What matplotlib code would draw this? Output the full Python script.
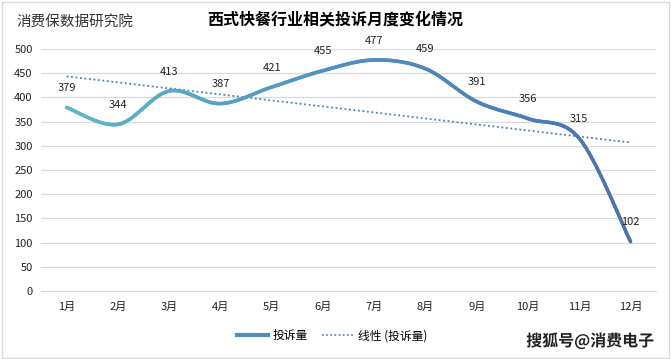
import matplotlib
matplotlib.use("Agg")
import matplotlib.pyplot as plt
import matplotlib.patheffects as pe
from matplotlib.collections import LineCollection
from matplotlib.colors import LinearSegmentedColormap
from matplotlib.lines import Line2D
import numpy as np

plt.rcParams["font.family"] = ["Noto Sans CJK SC", "DejaVu Sans"]

months = ["1月", "2月", "3月", "4月", "5月", "6月", "7月", "8月", "9月", "10月", "11月", "12月"]
complaints = [379, 344, 413, 387, 421, 455, 477, 459, 391, 356, 315, 102]
title = "西式快餐行业相关投诉月度变化情况"
source = "消费保数据研究院"
series_name = "投诉量"
trend_name = "线性 (投诉量)"
watermark = "搜狐号@消费电子"


def smooth(xs, ys, n=30):
    # Catmull-Rom style curve through the points, like Excel's smoothed line
    xs = np.asarray(xs, float)
    ys = np.asarray(ys, float)
    px = np.concatenate([[xs[0]], xs, [xs[-1]]])
    py = np.concatenate([[ys[0]], ys, [ys[-1]]])
    out_x, out_y = [], []
    t = np.linspace(0, 1, n)
    for i in range(1, len(px) - 2):
        p0, p1, p2, p3 = [np.array([px[j], py[j]]) for j in range(i - 1, i + 3)]
        c1 = p1 + (p2 - p0) / 6
        c2 = p2 - (p3 - p1) / 6
        b = ((1 - t) ** 3)[:, None] * p1 + (3 * (1 - t) ** 2 * t)[:, None] * c1 \
            + (3 * (1 - t) * t ** 2)[:, None] * c2 + (t ** 3)[:, None] * p2
        out_x.extend(b[:, 0])
        out_y.extend(b[:, 1])
    return np.array(out_x), np.array(out_y)


fig = plt.figure(figsize=(6.71, 3.59), dpi=100)
ax = fig.add_axes([0.061, 0.189, 0.917, 0.675])

x = np.arange(len(months))
sx, sy = smooth(x, complaints)
pts = np.column_stack([sx, sy]).reshape(-1, 1, 2)
segs = np.concatenate([pts[:-1], pts[1:]], axis=1)
cmap = LinearSegmentedColormap.from_list("g", ["#5fb8c8", "#4f8fc0", "#4a72b0"])
lc = LineCollection(segs, cmap=cmap, linewidth=2.6, capstyle="round", zorder=3)
lc.set_array(np.linspace(0, 1, len(segs)))
ax.add_collection(lc)

# linear trend line
k, b0 = np.polyfit(x, complaints, 1)
ax.plot(x, k * x + b0, linestyle=(0, (1, 1.5)), color="#4f7fc0", linewidth=1.3, zorder=2)

for xi, v in zip(x, complaints):
    ax.annotate(str(v), (xi, v), xytext=(0, 14), textcoords="offset points",
                ha="center", va="center", fontsize=8, color="#222222")

ax.set_xlim(-0.5, len(months) - 0.5)
ax.set_ylim(0, 500)
ax.set_yticks(range(0, 501, 50))
ax.set_xticks(x)
ax.set_xticklabels(months)
ax.tick_params(length=0, labelsize=8, colors="#222222")
ax.tick_params(axis="x", pad=8)
ax.tick_params(axis="y", pad=6)
ax.grid(axis="y", color="#d9d9d9", linewidth=0.9)
ax.set_axisbelow(True)
for s in ["top", "right", "left"]:
    ax.spines[s].set_visible(False)
ax.spines["bottom"].set_color("#d9d9d9")

fig.text(0.5, 0.945, title, ha="center", va="center", fontsize=11.5, fontweight="bold")
fig.text(0.025, 0.94, source, ha="left", va="center", fontsize=10.5, color="#333333")

handles = [Line2D([], [], color="#4f8fc0", linewidth=3),
           Line2D([], [], color="#4f7fc0", linestyle=(0, (1, 1.5)), linewidth=1.2)]
fig.legend(handles, [series_name, trend_name], loc="center", bbox_to_anchor=(0.495, 0.065),
           ncol=2, frameon=False, fontsize=8.5, handlelength=2.6, columnspacing=1.2,
           handletextpad=0.4)

fig.text(0.975, 0.05, watermark, ha="right", va="center", fontsize=11.5, fontweight="bold",
         color="#222222", path_effects=[pe.withStroke(linewidth=2.5, foreground="white")])

border = plt.Rectangle((0.003, 0.004), 0.994, 0.99, transform=fig.transFigure, fill=False,
                       edgecolor="#d9d9d9", linewidth=1)
fig.add_artist(border)

fig.savefig("out.png", dpi=100)
